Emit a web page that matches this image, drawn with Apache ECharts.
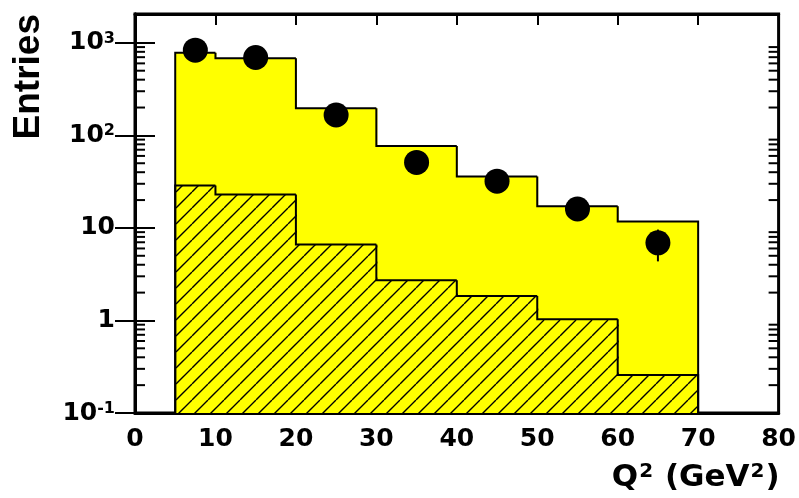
<!DOCTYPE html>
<html><head><meta charset="utf-8">
<script src="https://cdn.jsdelivr.net/npm/echarts@6/dist/echarts.min.js"></script>
<style>html,body{margin:0;padding:0;background:#fff}#c{width:799px;height:498px}</style>
</head><body><div id="c"></div>
<script>
// ---- data ----
const binEdges = [5, 10, 20, 30, 40, 50, 60, 70];
const mcTotal = [780, 683, 196, 77, 36, 17.1, 11.7];
const mcHatched = [28.7, 23.0, 6.64, 2.72, 1.84, 1.03, 0.257];
const dataX = [7.5, 15, 25, 35, 45, 55, 65];
const dataY = [834, 695, 166, 51, 32, 16, 6.9];
const dataLow = [805, 669, 153, 44, 26.5, 12, 4.35];
const dataHigh = [863, 721, 179, 58, 37.5, 20, 9.6];
const yTickValues = [0.1, 1, 10, 100, 1000];
const yTickBase = ['10', '1', '10', '10', '10'];
const yTickExp = ['-1', '', '', '2', '3'];
const yMinorTicks = [0.2,0.3,0.4,0.5,0.6,0.7,0.8,0.9, 2,3,4,5,6,7,8,9, 20,30,40,50,60,70,80,90, 200,300,400,500,600,700,800,900];
const X_MIN = 0, X_MAX = 80, X_STEP = 10, Y_MIN = 0.1, Y_MAX = 2050;
const xTitle = ['Q', '2', ' (GeV', '2', ')'];
const yTitle = 'Entries';

const FONT = '"Liberation Sans", Arial, Helvetica, sans-serif';
const FONT2 = '"DejaVu Sans", "Liberation Sans", sans-serif';
const YELLOW = '#ffff00';

function makeHatch(s) {
  const c = document.createElement('canvas');
  c.width = s; c.height = s;
  const g = c.getContext('2d');
  g.fillStyle = YELLOW; g.fillRect(0, 0, s, s);
  g.strokeStyle = '#000'; g.lineWidth = 1.4;
  g.beginPath();
  for (const o of [-s, 0, s]) { g.moveTo(o, s); g.lineTo(o + s, 0); }
  g.stroke();
  return c;
}
const hatch = makeHatch(16);

const nBins = binEdges.length - 1;
function binData(vals) {
  const out = [];
  for (let i = 0; i < nBins; i++) {
    out.push([binEdges[i], binEdges[i + 1], vals[i], i > 0 ? vals[i - 1] : Y_MIN, i === nBins - 1 ? 1 : 0]);
  }
  return out;
}
function rectRender(fill) {
  return function (params, api) {
    const p0 = api.coord([api.value(0), api.value(2)]);
    const p1 = api.coord([api.value(1), Y_MIN]);
    const overlap = api.value(4) ? 0 : 1; // avoid anti-aliasing seams between adjacent bins
    return { type: 'rect', shape: { x: p0[0], y: p0[1], width: p1[0] - p0[0] + overlap, height: p1[1] - p0[1] },
             style: { fill: fill, stroke: null } };
  };
}
function outlineRender(params, api) {
  const x0 = api.value(0), x1 = api.value(1), v = api.value(2), prev = api.value(3), last = api.value(4);
  const pts = [api.coord([x0, prev]), api.coord([x0, v]), api.coord([x1, v])];
  if (last) pts.push(api.coord([x1, Y_MIN]));
  return { type: 'polyline', shape: { points: pts }, style: { stroke: '#000', lineWidth: 2, fill: null } };
}

const richSup = {
  b: { fontSize: 25, fontWeight: 'bold', fontFamily: FONT2, color: '#000' },
  s: { fontSize: 16, fontWeight: 'bold', fontFamily: FONT2, color: '#000', verticalAlign: 'top', padding: [0, 0, 0, 0] }
};
const richTitle = {
  b: { fontSize: 31, fontWeight: 'bold', fontFamily: FONT2, color: '#000' },
  s: { fontSize: 20, fontWeight: 'bold', fontFamily: FONT2, color: '#000', verticalAlign: 'top', padding: [0, 1, 0, 1] }
};
function yLabel(v) {
  const i = yTickValues.findIndex(t => Math.abs(Math.log10(t) - Math.log10(v)) < 1e-6);
  if (i < 0) return '';
  return yTickExp[i] ? '{b|' + yTickBase[i] + '}{s|' + yTickExp[i] + '}' : '{b|' + yTickBase[i] + '}';
}

const chart = echarts.init(document.getElementById('c'), null, { renderer: 'canvas' });
chart.setOption({
  animation: false,
  backgroundColor: '#fff',
  grid: { left: 135, right: 20, top: 14, bottom: 85, show: true, borderColor: '#000', borderWidth: 3, backgroundColor: 'transparent' },
  graphic: [{
    type: 'text', x: 29, y: 14, rotation: Math.PI / 2,
    style: { text: yTitle, font: 'bold 37px ' + FONT, fill: '#000', align: 'right', verticalAlign: 'middle' }
  }],
  xAxis: [{
    type: 'value', min: X_MIN, max: X_MAX, interval: X_STEP, position: 'bottom',
    axisLine: { show: true, lineStyle: { color: '#000', width: 3 } },
    axisTick: { show: true, inside: true, length: 11, lineStyle: { color: '#000', width: 2 } },
    splitLine: { show: false },
    axisLabel: { color: '#000', fontSize: 25, fontWeight: 'bold', fontFamily: FONT2, margin: 14 },
    name: '{b|' + xTitle[0] + '}{s|' + xTitle[1] + '}{b|' + xTitle[2] + '}{s|' + xTitle[3] + '}{b|' + xTitle[4] + '}',
    nameLocation: 'end', nameGap: 1,
    nameTextStyle: { align: 'right', verticalAlign: 'top', padding: [49, 0, 0, 0], rich: richTitle }
  }, {
    type: 'value', min: X_MIN, max: X_MAX, interval: X_STEP, position: 'top',
    axisLine: { show: true, lineStyle: { color: '#000', width: 3 } },
    axisTick: { show: true, inside: true, length: 11, lineStyle: { color: '#000', width: 2 } },
    splitLine: { show: false }, axisLabel: { show: false }
  }],
  yAxis: [{
    type: 'log', logBase: 10, min: Y_MIN, max: Y_MAX, position: 'left',
    axisLine: { show: true, lineStyle: { color: '#000', width: 3 } },
    axisTick: { show: true, inside: true, length: 20, customValues: yTickValues, lineStyle: { color: '#000', width: 2 } },
    splitLine: { show: false },
    axisLabel: { margin: 20, customValues: yTickValues, rich: richSup, formatter: yLabel }
  }, {
    type: 'log', logBase: 10, min: Y_MIN, max: Y_MAX, position: 'right',
    axisLine: { show: true, lineStyle: { color: '#000', width: 3 } },
    axisTick: { show: true, inside: true, length: 20, customValues: yTickValues, lineStyle: { color: '#000', width: 2 } },
    splitLine: { show: false }, axisLabel: { show: false }
  }],
  series: [
    { type: 'custom', xAxisIndex: 0, yAxisIndex: 0, data: binData(mcTotal), renderItem: rectRender(YELLOW), z: 1, silent: true },
    { type: 'custom', xAxisIndex: 0, yAxisIndex: 0, data: binData(mcHatched), renderItem: rectRender({ image: hatch, repeat: 'repeat' }), z: 2, silent: true },
    { type: 'custom', xAxisIndex: 0, yAxisIndex: 0, data: binData(mcHatched), renderItem: outlineRender, z: 3, silent: true },
    { type: 'custom', xAxisIndex: 0, yAxisIndex: 0, data: binData(mcTotal), renderItem: outlineRender, z: 4, silent: true },
    { type: 'custom', xAxisIndex: 0, yAxisIndex: 0, z: 5, silent: true,
      data: yMinorTicks.map(v => [v]),
      renderItem: function (params, api) {
        const v = api.value(0);
        const l = api.coord([X_MIN, v]), r = api.coord([X_MAX, v]);
        return { type: 'group', children: [
          { type: 'line', shape: { x1: l[0], y1: l[1], x2: l[0] + 10, y2: l[1] }, style: { stroke: '#000', lineWidth: 2 } },
          { type: 'line', shape: { x1: r[0] - 10, y1: r[1], x2: r[0], y2: r[1] }, style: { stroke: '#000', lineWidth: 2 } }
        ] };
      }
    },
    { type: 'custom', xAxisIndex: 0, yAxisIndex: 0, z: 6, silent: true,
      data: dataX.map((x, i) => [x, dataLow[i], dataHigh[i]]),
      renderItem: function (params, api) {
        const a = api.coord([api.value(0), api.value(1)]), b = api.coord([api.value(0), api.value(2)]);
        return { type: 'line', shape: { x1: a[0], y1: a[1], x2: b[0], y2: b[1] }, style: { stroke: '#000', lineWidth: 2 } };
      }
    },
    { type: 'scatter', xAxisIndex: 0, yAxisIndex: 0, z: 7, silent: true, symbol: 'circle', symbolSize: 25,
      itemStyle: { color: '#000', opacity: 1 }, data: dataX.map((x, i) => [x, dataY[i]]) }
  ]
});
</script></body></html>
